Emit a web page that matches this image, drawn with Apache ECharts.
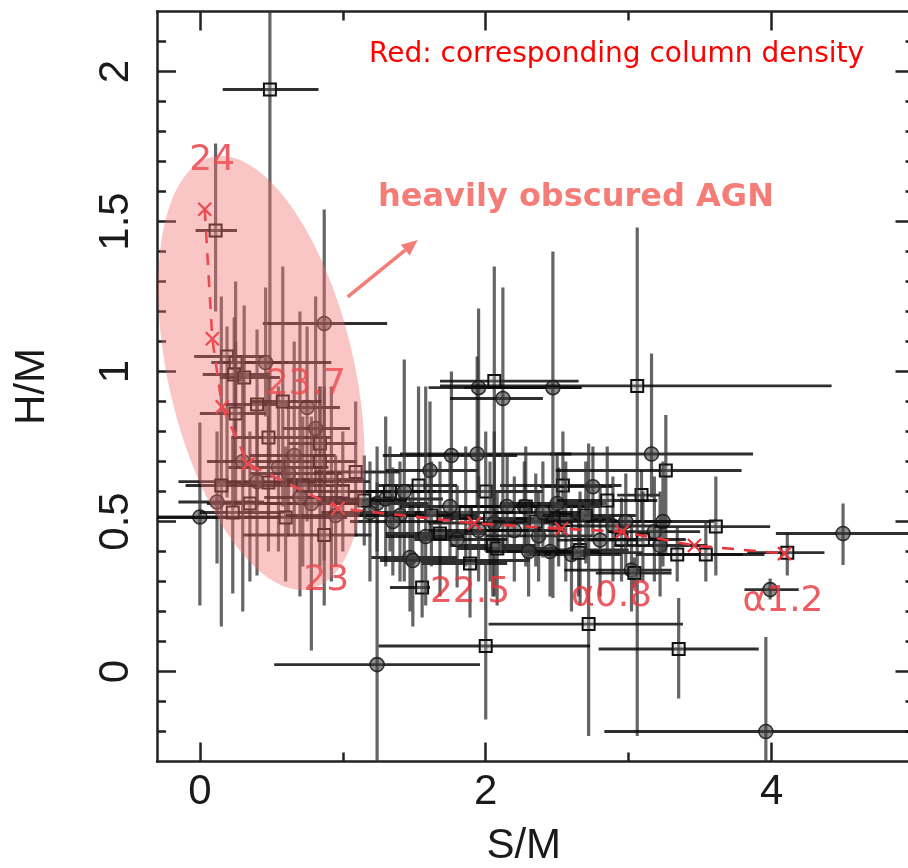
<!DOCTYPE html>
<html><head><meta charset="utf-8">
<script src="https://cdn.jsdelivr.net/npm/echarts@6/dist/echarts.min.js"></script>
<style>html,body{margin:0;padding:0;background:#fff}#c{width:908px;height:868px}</style>
</head><body><div id="c"></div>
<script>
// ---- axis ticks ----
const xTickLabels = [0, 2, 4];
const xMinorTicks = [1, 3];
const yTickLabels = [0, 0.5, 1, 1.5, 2];
const yMinorTicks = [-0.2,-0.1,0.1,0.2,0.3,0.4,0.6,0.7,0.8,0.9,1.1,1.2,1.3,1.4,1.6,1.7,1.8,1.9,2.1];

// ---- sources: S/M, H/M with error ranges; markerKind 1 = square, 0 = circle ----
const smVal = [
  0.49, 0.11, 0.87, 0.19, 0.25, 0.24, 0.31, 0.46,
  0.25, 0.40, 0.75, 0.48, 0.81, 0.84, 0.84, 0.55,
  0.62, 0.48, 0.72, 0.92, 1.09, 0.78, 0.35, 0.12,
  0.00, 0.87, 0.23, 0.40, 0.60, 1.00, 0.66, 0.95,
  1.24, 1.30, 1.19, 1.53, 1.61, 1.76, 1.94, 2.00,
  1.86, 2.03, 2.06, 1.68, 2.05, 2.08, 1.89, 1.47,
  1.49, 1.555, 2.28, 2.27, 2.37, 2.51, 2.54, 2.75,
  2.56, 2.50, 2.66, 2.80, 2.45, 2.60, 2.65, 2.89,
  3.02, 3.04, 3.09, 3.16, 3.26, 3.18, 3.22, 3.24,
  3.61, 3.34, 3.54, 4.11, 4.50, 3.99, 2.06, 1.95,
  2.12, 2.47, 3.06, 2.72, 3.35, 2.00, 1.24, 3.96,
  1.40, 1.33, 2.20, 2.35, 2.95, 1.75, 2.15, 1.43,
  1.35, 1.62, 1.80, 2.40, 2.70, 2.98, 3.10, 2.30,
  1.95, 1.15, 0.30, 0.58, 0.15, 0.70, 2.85, 1.58
];
const hmVal = [
  1.94, 1.47, 1.16, 1.05, 1.03, 0.99, 0.98, 1.03,
  0.86, 0.89, 0.88, 0.78, 0.81, 0.76, 0.70, 0.68,
  0.66, 0.63, 0.62, 0.64, 0.665, 0.56, 0.56, 0.565,
  0.515, 0.455, 0.53, 0.633, 0.513, 0.60, 0.72, 0.52,
  0.56, 0.575, 0.53, 0.62, 0.67, 0.72, 0.725, 0.60,
  0.53, 0.51, 0.495, 0.46, 0.42, 0.41, 0.36, 0.38,
  0.37, 0.28, 0.55, 0.55, 0.452, 0.51, 0.62, 0.616,
  0.505, 0.56, 0.405, 0.438, 0.40, 0.39, 0.396, 0.485,
  0.338, 0.328, 0.588, 0.725, 0.67, 0.466, 0.42, 0.50,
  0.483, 0.39, 0.39, 0.396, 0.46, 0.273, 0.968, 0.946,
  0.91, 0.946, 0.952, 0.158, 0.075, 0.085, 0.023, -0.20,
  0.52, 0.60, 0.47, 0.50, 0.44, 0.55, 0.55, 0.60,
  0.50, 0.52, 0.44, 0.53, 0.52, 0.50, 0.44, 0.40,
  0.47, 0.57, 0.70, 0.90, 0.62, 0.58, 0.57, 0.45
];
const smLow = [
  0.16, -0.03, 0.44, -0.04, 0.08, 0.02, 0.14, 0.30,
  0.00, 0.18, 0.60, 0.22, 0.58, 0.62, 0.55, 0.20,
  0.35, 0.10, 0.40, 0.60, 0.80, 0.45, 0.05, -0.15,
  -0.30, 0.30, 0.00, -0.15, -0.30, 0.70, 0.35, 0.60,
  0.90, 1.00, 0.85, 1.25, 1.30, 1.28, 1.40, 1.70,
  1.50, 1.70, 1.60, 1.30, 1.75, 1.80, 1.55, 1.20,
  1.26, 1.33, 1.90, 1.80, 2.00, 2.20, 2.10, 2.38,
  2.30, 2.10, 2.40, 2.50, 2.15, 2.30, 2.40, 2.60,
  2.55, 2.77, 2.92, 2.45, 2.49, 2.85, 2.90, 2.90,
  3.18, 3.05, 3.20, 3.83, 4.03, 3.81, 1.68, 1.60,
  1.75, 1.85, 1.68, 2.02, 2.79, 1.25, 0.52, 2.83,
  1.10, 1.05, 1.85, 2.05, 2.60, 1.40, 1.80, 1.15,
  1.05, 1.35, 1.50, 2.05, 2.40, 2.70, 2.80, 2.00,
  1.60, 0.85, 0.05, 0.35, -0.10, 0.45, 2.50, 1.30
];
const smHigh = [
  0.83, 0.26, 1.31, 0.45, 0.62, 0.48, 0.56, 0.92,
  0.46, 0.62, 0.98, 0.92, 1.05, 1.10, 1.10, 0.90,
  1.00, 0.80, 1.05, 1.15, 1.40, 1.10, 0.75, 0.45,
  0.62, 1.20, 0.60, 1.19, 1.03, 1.30, 0.95, 1.25,
  1.60, 1.70, 1.55, 1.80, 1.95, 2.22, 2.60, 2.40,
  2.20, 2.35, 2.60, 2.00, 2.35, 2.50, 2.15, 1.80,
  2.31, 1.61, 2.70, 2.80, 2.75, 2.90, 2.95, 2.89,
  2.85, 2.85, 3.00, 3.10, 2.80, 2.95, 3.10, 3.20,
  3.30, 3.30, 3.22, 3.87, 3.79, 3.50, 3.55, 3.60,
  3.99, 3.80, 3.95, 4.37, 5.10, 4.19, 2.65, 2.67,
  2.40, 2.67, 4.42, 3.38, 3.91, 2.73, 1.96, 5.10,
  1.75, 1.65, 2.55, 2.65, 3.25, 2.05, 2.45, 1.70,
  1.70, 1.95, 2.15, 2.75, 3.05, 3.30, 3.40, 2.60,
  2.30, 1.45, 0.60, 0.85, 0.40, 1.00, 3.20, 1.85
];
const hmLow = [
  0.69, 1.20, 0.37, 0.58, 0.80, 0.70, 0.62, 0.85,
  0.55, 0.55, 0.50, 0.52, 0.60, 0.55, 0.35, 0.40,
  0.45, 0.40, 0.35, 0.30, 0.45, 0.07, 0.30, 0.36,
  0.22, 0.22, 0.26, 0.32, 0.30, 0.40, 0.45, 0.35,
  0.40, 0.35, 0.30, 0.45, 0.45, 0.50, 0.55, 0.40,
  0.35, 0.30, 0.25, 0.25, 0.25, 0.22, 0.18, 0.20,
  0.15, 0.18, 0.35, 0.40, 0.30, 0.35, 0.45, 0.45,
  0.30, 0.40, 0.22, 0.25, 0.25, 0.20, 0.25, 0.30,
  0.20, 0.28, 0.50, 0.58, 0.39, 0.30, 0.25, 0.35,
  0.32, 0.30, 0.30, 0.32, 0.355, 0.24, 0.45, 0.58,
  0.39, 0.245, -0.215, -0.215, -0.09, -0.16, -0.35, -0.35,
  0.30, 0.40, 0.30, 0.35, 0.30, 0.38, 0.40, 0.30,
  0.32, 0.35, 0.28, 0.38, 0.36, 0.35, 0.30, 0.25,
  0.30, 0.42, 0.20, 0.55, 0.15, 0.25, 0.40, 0.22
];
const hmHigh = [
  2.30, 1.76, 1.54, 1.15, 1.30, 1.18, 1.22, 1.28,
  1.10, 1.14, 1.15, 1.00, 1.25, 0.95, 0.95, 0.95,
  0.90, 0.85, 0.85, 0.95, 0.90, 0.85, 0.80, 0.80,
  0.83, 0.95, 0.78, 0.90, 0.75, 0.80, 1.10, 0.72,
  0.75, 0.85, 0.70, 0.95, 0.90, 1.00, 1.05, 0.80,
  0.75, 0.70, 0.80, 0.70, 0.60, 0.60, 0.55, 0.58,
  0.60, 0.44, 0.75, 0.70, 0.60, 0.68, 0.80, 0.75,
  0.70, 0.72, 0.60, 0.62, 0.55, 0.55, 0.55, 0.65,
  0.50, 0.38, 0.67, 1.06, 0.855, 0.65, 0.60, 0.70,
  0.65, 0.48, 0.50, 0.46, 0.56, 0.31, 1.35, 1.21,
  1.28, 1.40, 1.48, 0.76, 0.245, 0.355, 0.63, 0.115,
  0.70, 0.75, 0.65, 0.66, 0.58, 0.72, 0.72, 1.04,
  0.68, 0.70, 0.62, 0.70, 0.70, 0.66, 0.60, 0.55,
  0.65, 0.72, 1.05, 1.35, 1.25, 1.20, 0.75, 0.95
];
const markerKind = [
  1,1,0,1,1,1,1,0,
  1,1,0,1,0,1,1,0,
  0,1,1,1,1,0,1,0,
  0,1,1,0,1,1,0,0,
  0,0,0,1,0,0,0,1,
  1,1,0,1,1,1,1,0,
  0,1,1,0,0,1,1,0,
  1,0,1,0,0,0,1,0,
  0,1,1,0,1,0,0,0,
  1,1,1,1,0,0,1,0,
  0,0,1,1,1,1,0,0,
  0,1,0,1,1,0,0,0,
  0,1,0,0,1,0,1,0,
  0,1,0,1,1,0,1,0
];

// ---- model track (red) ----
const modelS = [0.034, 0.087, 0.156, 0.338, 0.967, 1.92, 2.53, 2.955, 3.46, 4.09];
const modelH = [1.541, 1.109, 0.882, 0.692, 0.544, 0.494, 0.476, 0.466, 0.42, 0.393];
const modelLabelText = ['24', '23.7', '23', '22.5', 'α0.8', 'α1.2'];
const modelLabelS = [0.086, 0.741, 0.885, 1.89, 2.88, 4.08];
const modelLabelH = [1.703, 0.955, 0.302, 0.264, 0.249, 0.232];

// ---- annotation geometry (data coords) ----
const ellipseCenter = [0.43, 0.995];
const ellipseMajorEnd = [0.086, 1.715];
const ellipseMinorEnd = [1.065, 1.063];
const arrowFrom = [1.034, 1.249];
const arrowTo = [1.524, 1.438];

const pointData = smVal.map((v, i) => [v, hmVal[i], smLow[i], smHigh[i], hmLow[i], hmHigh[i], markerKind[i]]);
const modelData = modelS.map((v, i) => [v, modelH[i]]);
const labelData = modelLabelText.map((t, i) => ({ name: t, value: [modelLabelS[i], modelLabelH[i]] }));

const AX = '#222';
const tickFont = '"Liberation Sans", Arial, Helvetica, sans-serif';
const X0 = -0.3, X1 = 5.0, Y0 = -0.3, Y1 = 2.2;

function xAx(opts) {
  return Object.assign({
    type: 'value', min: X0, max: X1, scale: true,
    splitLine: { show: false },
    axisLine: { show: false, onZero: false },
    axisLabel: { show: false },
    axisTick: { show: false }
  }, opts);
}
function yAx(opts) {
  return Object.assign({
    type: 'value', min: Y0, max: Y1, scale: true,
    splitLine: { show: false },
    axisLine: { show: false, onZero: false },
    axisLabel: { show: false },
    axisTick: { show: false }
  }, opts);
}

const gridRect = { left: 157, top: 11.5, right: -6.5, bottom: 106.5, containLabel: false, outerBoundsMode: 'none' };

const chart = echarts.init(document.getElementById('c'));

function renderErr(params, api) {
  const x = api.value(0), y = api.value(1);
  const c = api.coord([x, y]);
  const l = api.coord([api.value(2), y]), r = api.coord([api.value(3), y]);
  const b = api.coord([x, api.value(4)]), t = api.coord([x, api.value(5)]);
  const kids = [
    { type: 'line', shape: { x1: c[0], y1: b[1], x2: c[0], y2: t[1] }, style: { stroke: 'rgba(50,50,50,0.75)', lineWidth: 3.2 } },
    { type: 'line', shape: { x1: l[0], y1: c[1], x2: r[0], y2: c[1] }, style: { stroke: 'rgba(10,10,10,0.85)', lineWidth: 2.8 } }
  ];
  if (api.value(6) === 1) {
    kids.push({ type: 'rect', shape: { x: c[0] - 6, y: c[1] - 6, width: 12, height: 12 }, style: { fill: 'rgba(180,180,180,0.3)', stroke: '#111', lineWidth: 2 } });
  } else {
    kids.push({ type: 'circle', shape: { cx: c[0], cy: c[1], r: 7 }, style: { fill: 'rgba(70,70,70,0.6)', stroke: 'rgba(25,25,25,0.85)', lineWidth: 1.6 } });
  }
  return { type: 'group', children: kids };
}

function renderEllipse(params, api) {
  const C = api.coord(ellipseCenter), A = api.coord(ellipseMajorEnd), B = api.coord(ellipseMinorEnd);
  const pts = [];
  for (let i = 0; i < 160; i++) {
    const t = i / 160 * 2 * Math.PI;
    pts.push([C[0] + (A[0] - C[0]) * Math.cos(t) + (B[0] - C[0]) * Math.sin(t),
              C[1] + (A[1] - C[1]) * Math.cos(t) + (B[1] - C[1]) * Math.sin(t)]);
  }
  return { type: 'polygon', shape: { points: pts }, style: { fill: 'rgba(242,110,110,0.4)' } };
}

function renderArrow(params, api) {
  const P = api.coord(arrowFrom), Q = api.coord(arrowTo);
  const dx = Q[0] - P[0], dy = Q[1] - P[1], L = Math.hypot(dx, dy);
  const ux = dx / L, uy = dy / L, hl = 16, hw = 7;
  const bx = Q[0] - ux * hl, by = Q[1] - uy * hl;
  return { type: 'group', children: [
    { type: 'line', shape: { x1: P[0], y1: P[1], x2: bx, y2: by }, style: { stroke: '#f47d78', lineWidth: 3.5 } },
    { type: 'polygon', shape: { points: [[Q[0], Q[1]], [bx - uy * hw, by + ux * hw], [bx + uy * hw, by - ux * hw]] }, style: { fill: '#f47d78' } }
  ]};
}

const option = {
  animation: false,
  backgroundColor: '#fff',
  grid: [Object.assign({}, gridRect), Object.assign({}, gridRect)],
  xAxis: [
    xAx({ gridIndex: 0, position: 'bottom',
      axisLine: { show: true, onZero: false, lineStyle: { color: AX, width: 2.5 } },
      axisTick: { show: true, inside: true, length: 19, customValues: xTickLabels, lineStyle: { color: AX, width: 2.5 } },
      axisLabel: { show: true, customValues: xTickLabels, margin: 10, fontSize: 42, color: '#1a1a1a', fontFamily: tickFont },
      name: 'S/M', nameLocation: 'middle', nameGap: 64,
      nameTextStyle: { fontSize: 42, color: '#1a1a1a', fontFamily: tickFont, padding: [0, 24, 0, 0] }
    }),
    xAx({ gridIndex: 0, position: 'top',
      axisLine: { show: true, onZero: false, lineStyle: { color: AX, width: 2.5 } },
      axisTick: { show: true, inside: true, length: 19, customValues: xTickLabels, lineStyle: { color: AX, width: 2.5 } }
    }),
    xAx({ gridIndex: 1, position: 'bottom',
      axisTick: { show: true, inside: true, length: 9, customValues: xMinorTicks, lineStyle: { color: AX, width: 2.5 } }
    }),
    xAx({ gridIndex: 1, position: 'top',
      axisTick: { show: true, inside: true, length: 9, customValues: xMinorTicks, lineStyle: { color: AX, width: 2.5 } }
    })
  ],
  yAxis: [
    yAx({ gridIndex: 0, position: 'left',
      axisLine: { show: true, onZero: false, lineStyle: { color: AX, width: 2.5 } },
      axisTick: { show: true, inside: true, length: 19, customValues: yTickLabels, lineStyle: { color: AX, width: 2.5 } },
      axisLabel: { show: true, customValues: yTickLabels, rotate: 90, margin: 20, fontSize: 42, color: '#1a1a1a', fontFamily: tickFont },
      name: 'H/M', nameLocation: 'middle', nameGap: 104, nameRotate: 90,
      nameTextStyle: { fontSize: 42, color: '#1a1a1a', fontFamily: tickFont }
    }),
    yAx({ gridIndex: 0, position: 'right',
      axisLine: { show: true, onZero: false, lineStyle: { color: AX, width: 2.5 } },
      axisTick: { show: true, inside: true, length: 19, customValues: yTickLabels, lineStyle: { color: AX, width: 2.5 } }
    }),
    yAx({ gridIndex: 1, position: 'left',
      axisTick: { show: true, inside: true, length: 9, customValues: yMinorTicks, lineStyle: { color: AX, width: 2.5 } }
    }),
    yAx({ gridIndex: 1, position: 'right',
      axisTick: { show: true, inside: true, length: 9, customValues: yMinorTicks, lineStyle: { color: AX, width: 2.5 } }
    })
  ],
  series: [
    { type: 'custom', name: 'sources', xAxisIndex: 0, yAxisIndex: 0, clip: true, z: 2,
      dimensions: ['sm', 'hm', 'smLo', 'smHi', 'hmLo', 'hmHi', 'kind'],
      encode: { x: 0, y: 1 }, renderItem: renderErr, data: pointData },
    { type: 'line', name: 'model', xAxisIndex: 0, yAxisIndex: 0, z: 3,
      data: modelData,
      symbol: 'path://M0,0L10,10M10,0L0,10', symbolSize: 13,
      itemStyle: { color: 'none', borderColor: '#e8333b', borderWidth: 2.2 },
      lineStyle: { color: '#e8333b', width: 2.6, type: [12, 10] } },
    { type: 'scatter', name: 'modelLabels', xAxisIndex: 0, yAxisIndex: 0, z: 3,
      data: labelData, symbolSize: 1, itemStyle: { color: 'rgba(0,0,0,0)' },
      label: { show: true, position: 'inside', formatter: '{b}', fontSize: 36,
        fontFamily: '"DejaVu Sans", sans-serif', color: '#e8333b' } },
    { type: 'custom', name: 'ellipse', xAxisIndex: 0, yAxisIndex: 0, clip: false, z: 4,
      renderItem: renderEllipse, data: [ellipseCenter], silent: true },
    { type: 'custom', name: 'arrow', xAxisIndex: 0, yAxisIndex: 0, clip: false, z: 5,
      renderItem: renderArrow, data: [arrowFrom], silent: true }
  ],
  graphic: [
    { type: 'text', x: 369, y: 55, z: 10,
      style: { text: 'Red: corresponding column density', font: '28px "DejaVu Sans", sans-serif', fill: '#ff0000', verticalAlign: 'middle', textAlign: 'left' } },
    { type: 'text', x: 378, y: 198, z: 10,
      style: { text: 'heavily obscured AGN', font: 'bold 32px "DejaVu Sans", sans-serif', fill: '#f57c77', verticalAlign: 'middle', textAlign: 'left' } }
  ]
};
chart.setOption(option);
</script>
</body></html>
